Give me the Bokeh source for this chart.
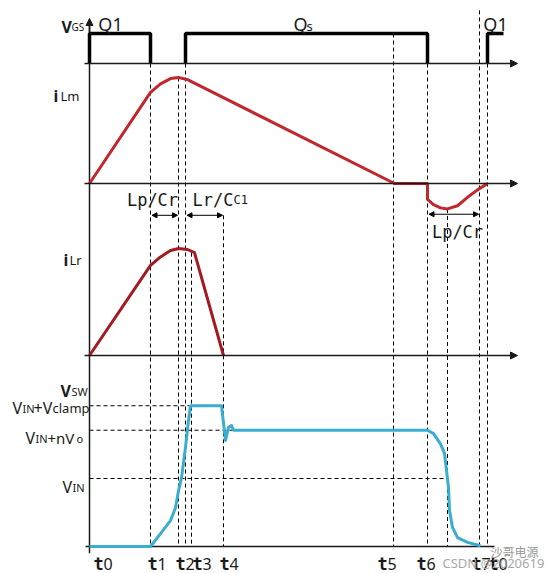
from bokeh.plotting import figure
from bokeh.models import Range1d, Arrow, NormalHead
from bokeh.core.properties import value
from bokeh.embed import file_html
from bokeh.resources import INLINE

# ---------------- data (time in arbitrary units, signals normalised) ----------------
T0, T1, T2, T3, TC, T4 = 0.0, 6.1, 8.9, 9.6, 10.2, 13.4
T5, T6, TM, T7, T8 = 30.4, 33.8, 35.8, 39.0, 39.8

time_labels = ["t0", "t1", "t2", "t3", "t4", "t5", "t6", "t7", "t0"]
time_label_at = [T0, T1, T2, T3, T4, T5, T6, T7, T8]

# gate drive pulses (0 = low, 1 = high)
q1_t = [0.0, 0.0, 6.1, 6.1]
q1_v = [0, 1, 1, 0]
qs_t = [9.6, 9.6, 33.8, 33.8]
qs_v = [0, 1, 1, 0]
q1b_t = [39.8, 39.8, 41.4]
q1b_v = [0, 1, 1]

# magnetising current iLm
ilm_t = [0.0, 6.1, 7.1, 8.1, 8.9, 9.8, 30.5, 33.8, 33.8, 34.4, 35.1, 35.8, 36.8, 37.8, 38.8, 39.8]
ilm_v = [0.0, 0.86, 0.94, 0.99, 1.0, 0.98, 0.0, 0.0, -0.15, -0.20, -0.23, -0.24, -0.21, -0.13, -0.06, 0.0]

# resonant current iLr
ilr_t = [0.0, 6.1, 7.1, 8.1, 8.9, 9.8, 10.5, 13.4]
ilr_v = [0.0, 0.85, 0.93, 0.99, 1.01, 1.00, 0.97, 0.0]

# switch-node voltage Vsw (VIN = 1)
vsw_t = [0.0, 6.1, 7.1, 8.1, 8.6, 8.9, 9.2, 9.6, 9.9, 10.1, 13.2, 13.6, 13.9, 14.2, 14.4,
         33.8, 34.4, 35.1, 35.5, 35.7, 35.9, 36.0, 36.3, 36.8, 37.8, 39.1]
vsw_v = [0.0, 0.0, 0.19, 0.38, 0.57, 0.82, 1.01, 1.46, 1.85, 2.07, 2.07, 1.56, 1.75, 1.78, 1.71,
         1.71, 1.66, 1.51, 1.37, 1.12, 0.87, 0.53, 0.28, 0.13, 0.06, 0.01]
V_IN, V_IN_NVO, V_IN_CLAMP = 1.0, 1.71, 2.07

# ---------------- layout (page pixels) ----------------
W, H, M = 550, 573, 0
X0_PAGE, PX_PER_T = 89, 10.0
PANELS = {"vgs": (63, 30.0), "ilm": (183, 106.0), "ilr": (355, 106.0), "default": (546, 68.0)}


def prange(name):
    base, s = PANELS[name]
    return Range1d((base - (M + H)) / s, (base - M) / s)


def to_vsw(v, name):
    base, s = PANELS[name]
    page = base - s * v
    b2, s2 = PANELS["default"]
    return (b2 - page) / s2


p = figure(width=W, height=H, output_backend="svg", toolbar_location=None,
           x_range=Range1d((M - X0_PAGE) / PX_PER_T, (M + W - X0_PAGE) / PX_PER_T),
           y_range=prange("default"), min_border=0, x_axis_type=None, y_axis_type=None,
           outline_line_color=None, background_fill_color="white", border_fill_color="white")
p.grid.visible = False
p.extra_y_ranges = {k: prange(k) for k in ("vgs", "ilm", "ilr")}

INK = "#1a1a1a"
DASH = "4 3"

# ---- vertical dashed event lines ----
dash_specs = [(T1, "vgs", 0), (T2, "ilm", ilm_v[4]), (T3, "vgs", 0), (TC, "ilr", ilr_v[6]),
              (T4, "ilm", -0.30), (T5, "vgs", 1), (T6, "vgs", 0), (TM, "ilm", ilm_v[11]),
              (T7, "vgs", 1.77), (T8, "vgs", 0)]
p.segment(x0=[d[0] for d in dash_specs], x1=[d[0] for d in dash_specs],
          y0=[to_vsw(d[2], d[1]) for d in dash_specs], y1=[0] * len(dash_specs),
          line_color="black", line_width=1, line_dash=DASH)

# ---- horizontal dashed level lines in Vsw ----
p.segment(x0=[0, 0, 0], x1=[10.1, 14.4, 35.8], y0=[V_IN_CLAMP, V_IN_NVO, V_IN],
          y1=[V_IN_CLAMP, V_IN_NVO, V_IN], line_color="black", line_width=1, line_dash=DASH)

# ---- axes ----
ax_top = to_vsw(1.5, "vgs")
p.segment(x0=[0], x1=[0], y0=[-0.10], y1=[ax_top - 0.05], line_color=INK, line_width=1.5)
p.add_layout(Arrow(end=NormalHead(size=7, fill_color=INK, line_color=INK), x_start=0, x_end=0,
                   y_start=ax_top - 0.2, y_end=ax_top, line_color=INK, line_width=1.5))
for name in ("vgs", "ilm", "ilr"):
    p.add_layout(Arrow(end=NormalHead(size=7, fill_color=INK, line_color=INK),
                       x_start=-0.5, x_end=42.8, y_start=0, y_end=0, y_range_name=name,
                       line_color=INK, line_width=1.5))
p.segment(x0=[-0.4], x1=[40.5], y0=[0], y1=[0], line_color=INK, line_width=1.5)

# ---- signals ----
for tt, vv in ((q1_t, q1_v), (qs_t, qs_v), (q1b_t, q1b_v)):
    p.line(tt, vv, y_range_name="vgs", line_color="black", line_width=3.5)
p.line(ilm_t, ilm_v, y_range_name="ilm", line_color="#c1272d", line_width=3, line_join="round")
p.line(ilr_t, ilr_v, y_range_name="ilr", line_color="#a31a22", line_width=3, line_join="round")
p.line(vsw_t, vsw_v, line_color="#3aaed0", line_width=3, line_join="round")

# ---- annotation arrows ----
for xs, xe, yy in ((T1, T2, -0.30), (T3, T4, -0.30), (T6, T7, -0.29)):
    p.add_layout(Arrow(start=NormalHead(size=5, fill_color="black", line_color="black"),
                       end=NormalHead(size=5, fill_color="black", line_color="black"),
                       x_start=xs + 0.15, x_end=xe - 0.1, y_start=yy, y_end=yy,
                       y_range_name="ilm", line_color="black", line_width=1))


def txt(x, y, s, rng="default", size=15, bold=False, color=INK, align="left",
        font="Noto Sans", xoff=0):
    p.text(x=[x], y=[y], text=[s], y_range_name=rng, text_font=value(font),
           text_font_size=value(f"{size}px"), text_font_style=value("bold" if bold else "normal"),
           text_color=color, text_align=value(align), text_baseline=value("alphabetic"),
           x_offset=xoff)


MONO = "DejaVu Sans Mono"
txt(T1, -0.155, "Lp/Cr", "ilm", 17, font=MONO, align="center", xoff=2)
txt(T4, -0.155, "Lr/C", "ilm", 17, font=MONO, align="right", xoff=10)
txt(T4, -0.155, "C1", "ilm", 12, font=MONO, xoff=10)
txt(TM, -0.46, "Lp/Cr", "ilm", 17, font=MONO, align="center", xoff=10)

# gate labels
txt(2.1, 1.32, "Q1", "vgs", 18, align="center")
txt(21.1, 1.32, "Q", "vgs", 18, align="center")
txt(21.1, 1.25, "s", "vgs", 13, xoff=6)
txt(40.6, 1.32, "Q1", "vgs", 18, align="center")

# axis names
txt(0, 1.23, "V", "vgs", 16, bold=True, xoff=-28)
txt(0, 1.23, "GS", "vgs", 10, xoff=-18)
txt(0, 0.83, "i", "ilm", 16, bold=True, xoff=-36)
txt(0, 0.83, "Lm", "ilm", 13, xoff=-29)
txt(0, 0.90, "i", "ilr", 16, bold=True, xoff=-26)
txt(0, 0.90, "Lr", "ilr", 13, xoff=-20)
txt(0, 2.28, "V", "default", 16, bold=True, xoff=-29)
txt(0, 2.28, "SW", "default", 11, xoff=-18)

# level labels
txt(0, 2.03, "V", size=16, xoff=-77)
txt(0, 2.03, "IN", size=11, xoff=-67)
txt(0, 2.03, "+V", size=16, xoff=-56)
txt(0, 2.03, "clamp", size=13, xoff=-37)
txt(0, 1.59, "V", size=16, xoff=-64)
txt(0, 1.59, "IN", size=11, xoff=-54)
txt(0, 1.59, "+nV", size=15, xoff=-42)
txt(0, 1.59, "o", size=11, xoff=-13)
txt(0, 0.87, "V", size=16, xoff=-27)
txt(0, 0.87, "IN", size=11, xoff=-17)

# time labels
t_offsets = [4, -3, -3, 7, -4, -16, -11, -8, 1]
for lab, at, off in zip(time_labels, time_label_at, t_offsets):
    txt(at, -0.25, lab[0], size=17, bold=True, font=MONO, xoff=off)
    txt(at, -0.25, lab[1:], size=16, xoff=off + 10)

# watermark
txt(40.1, -0.08, "沙哥电源", size=12, color="#9a9a9a", font="Noto Sans CJK SC")
txt(35.3, -0.24, "CSDN @2020619", size=13, color="#a8a8a8")

open("out.html", "w").write(file_html(p, INLINE))
